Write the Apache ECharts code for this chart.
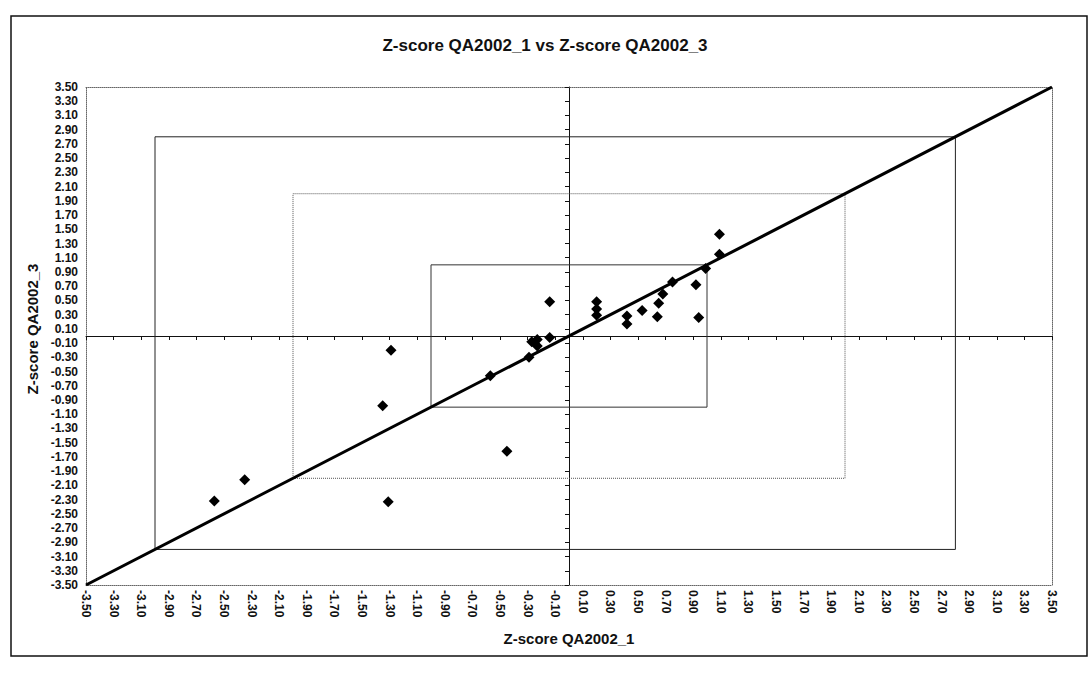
<!DOCTYPE html>
<html><head><meta charset="utf-8">
<script src="https://cdn.jsdelivr.net/npm/echarts@6/dist/echarts.min.js"></script>
<style>html,body{margin:0;padding:0;background:#fff}#c{width:1090px;height:678px}</style>
</head><body><div id="c"></div>
<script>
const titleText = 'Z-score QA2002_1 vs Z-score QA2002_3';
const xName = 'Z-score QA2002_1';
const yName = 'Z-score QA2002_3';
const axisMin = -3.5, axisMax = 3.5, axisStep = 0.2;

// scatter points (Z-score QA2002_1, Z-score QA2002_3)
const xValues = [1.09, 1.09, 0.99, 0.75, 0.92, 0.68, 0.65, 0.64, 0.94, 0.53, 0.42, 0.42, 0.20, 0.20, 0.20,
  -0.14, -0.14, -0.27, -0.23, -0.23, -0.29, -0.57, -0.45, -1.29, -1.35, -1.31, -2.35, -2.57];
const yValues = [1.43, 1.15, 0.95, 0.76, 0.72, 0.59, 0.46, 0.27, 0.26, 0.36, 0.28, 0.17, 0.48, 0.38, 0.29,
  0.48, -0.02, -0.08, -0.05, -0.14, -0.30, -0.56, -1.62, -0.20, -0.98, -2.33, -2.02, -2.32];

// reference boxes [low, high] and the y = x line
const innerBox = [-1, 1];
const middleBox = [-2, 2];
const outerBox = [-3.0, 2.8];
const refLine = [-3.5, 3.5];

const FONT = 'Liberation Sans, Arial, sans-serif';
function boxData(b) { return [[b[0], b[0]], [b[1], b[0]], [b[1], b[1]], [b[0], b[1]], [b[0], b[0]]]; }
const fmt = v => v.toFixed(2);

const baseX = { type: 'value', min: axisMin, max: axisMax, interval: axisStep, splitLine: { show: false } };
const chart = echarts.init(document.getElementById('c'), null, { renderer: 'svg' });
chart.setOption({
  backgroundColor: '#fff',
  animation: false,
  title: { text: titleText, left: 'center', top: 32,
    textStyle: { fontFamily: FONT, fontSize: 17, fontWeight: 'bold', color: '#111' } },
  grid: { left: 86, right: 38, top: 87, bottom: 93 },
  xAxis: [
    Object.assign({}, baseX, { position: 'bottom', name: xName, nameLocation: 'middle', nameGap: 46,
      nameTextStyle: { fontFamily: FONT, fontSize: 15, fontWeight: 'bold', color: '#111' },
      axisLine: { show: true, onZero: false, lineStyle: { color: '#666', type: 'dotted', width: 1 } },
      axisTick: { show: false },
      axisLabel: { rotate: -90, margin: 5, formatter: fmt, fontFamily: FONT, fontSize: 12, fontWeight: 'bold', color: '#111' } }),
    Object.assign({}, baseX, { position: 'top',
      axisLine: { show: true, onZero: false, lineStyle: { color: '#666', type: 'dotted', width: 1 } },
      axisTick: { show: false }, axisLabel: { show: false } }),
    Object.assign({}, baseX, { position: 'bottom',
      axisLine: { show: true, onZero: true, onZeroAxisIndex: 0, lineStyle: { color: '#111', width: 1 } },
      axisTick: { show: true, length: 4, lineStyle: { color: '#111' } }, axisLabel: { show: false } })
  ],
  yAxis: [
    Object.assign({}, baseX, { position: 'left', name: yName, nameLocation: 'middle', nameGap: 46,
      nameTextStyle: { fontFamily: FONT, fontSize: 15, fontWeight: 'bold', color: '#111', padding: [0, 0, 0, 14] },
      axisLine: { show: true, onZero: false, lineStyle: { color: '#666', type: 'dotted', width: 1 } },
      axisTick: { show: false },
      axisLabel: { margin: 8, formatter: fmt, fontFamily: FONT, fontSize: 12, fontWeight: 'bold', color: '#111' } }),
    Object.assign({}, baseX, { position: 'right',
      axisLine: { show: true, onZero: false, lineStyle: { color: '#666', type: 'dotted', width: 1 } },
      axisTick: { show: false }, axisLabel: { show: false } }),
    Object.assign({}, baseX, { position: 'left',
      axisLine: { show: true, onZero: true, onZeroAxisIndex: 0, lineStyle: { color: '#111', width: 1 } },
      axisTick: { show: true, length: 4, lineStyle: { color: '#111' } }, axisLabel: { show: false } })
  ],
  graphic: [{ type: 'rect', shape: { x: 11, y: 16, width: 1076, height: 640 }, silent: true,
    style: { fill: 'none', stroke: '#111', lineWidth: 1.5 } }],
  series: [
    { type: 'line', data: boxData(outerBox), symbol: 'none', lineStyle: { color: '#222', width: 1 }, z: 1 },
    { type: 'line', data: boxData(middleBox), symbol: 'none', lineStyle: { color: '#555', width: 1, type: 'dotted' }, z: 1 },
    { type: 'line', data: boxData(innerBox), symbol: 'none', lineStyle: { color: '#333', width: 1 }, z: 1 },
    { type: 'line', data: [[refLine[0], refLine[0]], [refLine[1], refLine[1]]], symbol: 'none',
      lineStyle: { color: '#000', width: 3 }, z: 2 },
    { type: 'scatter', data: xValues.map((x, i) => [x, yValues[i]]), symbol: 'diamond', symbolSize: 11,
      itemStyle: { color: '#000', opacity: 1 }, z: 3 }
  ]
});
</script></body></html>
